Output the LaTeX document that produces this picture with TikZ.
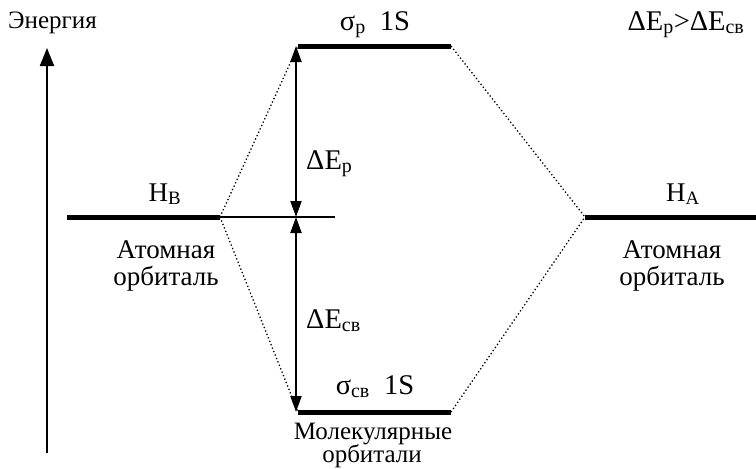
\documentclass[tikz,border=0pt]{standalone}
\usepackage{fontspec}
\setmainfont{Liberation Serif}
\usetikzlibrary{arrows.meta}
\begin{document}
\begin{tikzpicture}[x=1pt,y=-1pt,
  font=\fontsize{27}{31}\selectfont,
  level/.style={line width=5pt},
  dotline/.style={line width=1.3pt, dash pattern=on 1.3pt off 2.4pt},
  thin/.style={line width=1.3pt},
  axis/.style={line width=2pt, -{Triangle[width=14pt,length=18pt]}},
  dbl/.style={line width=2pt, {Triangle[width=11pt,length=16pt]}-{Triangle[width=11pt,length=16pt]}},
  lbl/.style={inner sep=0pt, anchor=base},
  lblw/.style={inner sep=0pt, anchor=base west},
  big/.style={font=\fontsize{28.5}{32}\selectfont},
  small/.style={font=\fontsize{25}{29}\selectfont}
]
\useasboundingbox (0,0) rectangle (756,469);
% coordinates
\coordinate (axb) at (47,453);
\coordinate (axt) at (47,48);
\coordinate (hbl) at (67,217);
\coordinate (hbr) at (220,217);
\coordinate (thr) at (335,217);
\coordinate (spl) at (298,46);
\coordinate (spr) at (451,46);
\coordinate (sbl) at (298,412);
\coordinate (sbr) at (451,412);
\coordinate (hal) at (585,217);
\coordinate (har) at (756,217);
\coordinate (at) at (296,46);
\coordinate (am) at (296,217);
\coordinate (ab) at (296,412);
% axis
\draw[axis] (axb) -- (axt);
% levels
\draw[level] (hbl) -- (hbr);
\draw[level] (spl) -- (spr);
\draw[level] (sbl) -- (sbr);
\draw[level] (hal) -- (har);
\draw[thin] (hbr) -- (thr);
% dotted
\draw[dotline] (hbr) -- (spl);
\draw[dotline] (hbr) -- (sbl);
\draw[dotline] (spr) -- (hal);
\draw[dotline] (sbr) -- (hal);
% double arrows
\draw[dbl] (at) -- (am);
\draw[dbl] (am) -- (ab);
% labels
\node[lblw, small] (en) at (8,28) {Энергия};
\node[lbl, big] (sp) at (375,30) {σ\textsubscript{p}\hspace{0.5em}1S};
\node[lbl, big] (sb) at (375,394) {σ\textsubscript{св}\hspace{0.5em}1S};
\node[lbl, big] (cmp) at (686,30) {ΔE\textsubscript{p}>ΔE\textsubscript{св}};
\node[lbl] (hb) at (165,201) {H\textsubscript{B}};
\node[lbl] (ha) at (683,201) {H\textsubscript{A}};
\node[lblw, big] (dep) at (306,169) {ΔE\textsubscript{p}};
\node[lblw, big] (desv) at (306,328) {ΔE\textsubscript{св}};
\node[lbl] (ao1) at (166,258) {Атомная};
\node[lbl] (ao1b) at (166,285) {орбиталь};
\node[lbl] (ao2) at (672,258) {Атомная};
\node[lbl] (ao2b) at (672,285) {орбиталь};
\node[lbl, small] (mo) at (373,439) {Молекулярные};
\node[lbl, small] (mob) at (372,462) {орбитали};
\end{tikzpicture}
\end{document}
